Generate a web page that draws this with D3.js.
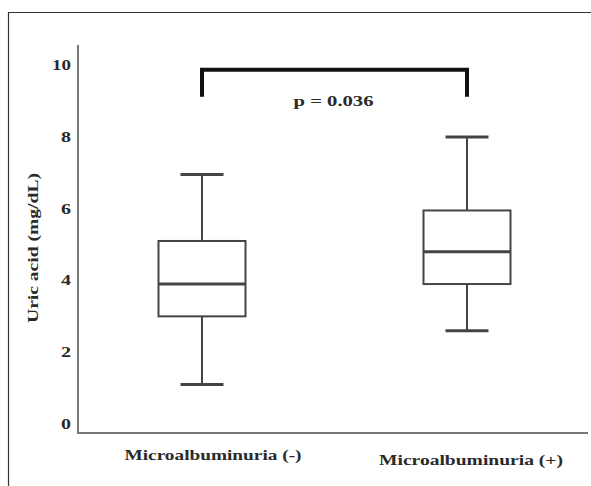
<!DOCTYPE html>
<html><head><meta charset="utf-8">
<script src="https://cdn.jsdelivr.net/npm/d3@7"></script>
<style>body{margin:0;background:#fff}svg{display:block}</style>
</head><body>
<script>
const categories = ["Microalbuminuria (-)", "Microalbuminuria (+)"];
const whiskerLow  = [1.1, 2.6];
const q1          = [3.0, 3.9];
const medians     = [3.9, 4.8];
const q3          = [5.1, 5.95];
const whiskerHigh = [6.95, 8.0];
const yTicks = [0, 2, 4, 6, 8, 10];
const pLabel = "p = 0.036";
const yTitle = "Uric acid (mg/dL)";

const W = 591, H = 486;
const svg = d3.select("body").append("svg").attr("width", W).attr("height", H);
const font = "'Liberation Serif','Times New Roman',serif";
const txtCol = "#2a2a2a";

// outer frame
svg.append("path").attr("d", `M8.5,${H}V12.5H${W}`).attr("fill","none").attr("stroke","#333").attr("stroke-width",1.2);

const y = d3.scaleLinear().domain([-0.25, 10.56]).range([433, 45]);
const x = d3.scalePoint().domain(categories).range([69.5, 599.5]).padding(0.5);
const boxW = 87, capW = 43;

// axes lines
svg.append("line").attr("x1",78).attr("x2",78).attr("y1",y(10.56)).attr("y2",y(-0.25)).attr("stroke","#777").attr("stroke-width",2);
svg.append("line").attr("x1",77).attr("x2",W-3).attr("y1",y(-0.25)).attr("y2",y(-0.25)).attr("stroke","#777").attr("stroke-width",2);

// y tick labels
const ax = svg.append("g").attr("transform","translate(78,0)")
  .call(d3.axisLeft(y).tickValues(yTicks).tickSize(0).tickPadding(7).tickFormat(d3.format("d")));
ax.select(".domain").remove();
ax.selectAll("text").attr("font-family",font).attr("font-weight","bold").attr("font-size",14).attr("fill",txtCol)
  .attr("textLength", d => d >= 10 ? 19 : 10).attr("lengthAdjust","spacingAndGlyphs");

// y title
svg.append("text").attr("transform","translate(38,248) rotate(-90)").attr("text-anchor","middle")
  .attr("font-family",font).attr("font-weight","bold").attr("font-size",15).attr("fill",txtCol)
  .attr("textLength",150).attr("lengthAdjust","spacingAndGlyphs").text(yTitle);

// x labels
const labelDx = [11, 4], labelY = [460, 465], labelLen = [177, 184];
categories.forEach((c,i)=>{
  svg.append("text").attr("x", x(c)+labelDx[i]).attr("y", labelY[i]).attr("text-anchor","middle")
    .attr("font-family",font).attr("font-weight","bold").attr("font-size",15).attr("fill",txtCol)
    .attr("textLength",labelLen[i]).attr("lengthAdjust","spacingAndGlyphs").text(c);
});

// boxes
const stroke = "#444";
categories.forEach((c,i)=>{
  const cx = x(c);
  const g = svg.append("g").attr("stroke",stroke).attr("stroke-width",2).attr("fill","none");
  g.append("line").attr("x1",cx).attr("x2",cx).attr("y1",y(whiskerHigh[i])).attr("y2",y(q3[i]));
  g.append("line").attr("x1",cx).attr("x2",cx).attr("y1",y(q1[i])).attr("y2",y(whiskerLow[i]));
  g.append("line").attr("x1",cx-capW/2).attr("x2",cx+capW/2).attr("y1",y(whiskerHigh[i])).attr("y2",y(whiskerHigh[i])).attr("stroke-width",3);
  g.append("line").attr("x1",cx-capW/2).attr("x2",cx+capW/2).attr("y1",y(whiskerLow[i])).attr("y2",y(whiskerLow[i])).attr("stroke-width",3);
  g.append("rect").attr("x",cx-boxW/2).attr("y",y(q3[i])).attr("width",boxW).attr("height",y(q1[i])-y(q3[i])).attr("fill","#fff");
  g.append("line").attr("x1",cx-boxW/2).attr("x2",cx+boxW/2).attr("y1",y(medians[i])).attr("y2",y(medians[i])).attr("stroke-width",3);
});

// significance bracket
const bx0 = x(categories[0]), bx1 = x(categories[1]);
svg.append("path").attr("d",`M${bx0},${y(9.12)}V${y(9.87)}H${bx1}V${y(9.12)}`)
  .attr("fill","none").attr("stroke","#111").attr("stroke-width",4);
svg.append("text").attr("x",(bx0+bx1)/2 - 1).attr("y",y(8.86)).attr("text-anchor","middle")
  .attr("font-family",font).attr("font-weight","bold").attr("font-size",14).attr("fill",txtCol)
  .attr("textLength",80).attr("lengthAdjust","spacingAndGlyphs").text(pLabel);
</script>
</body></html>
